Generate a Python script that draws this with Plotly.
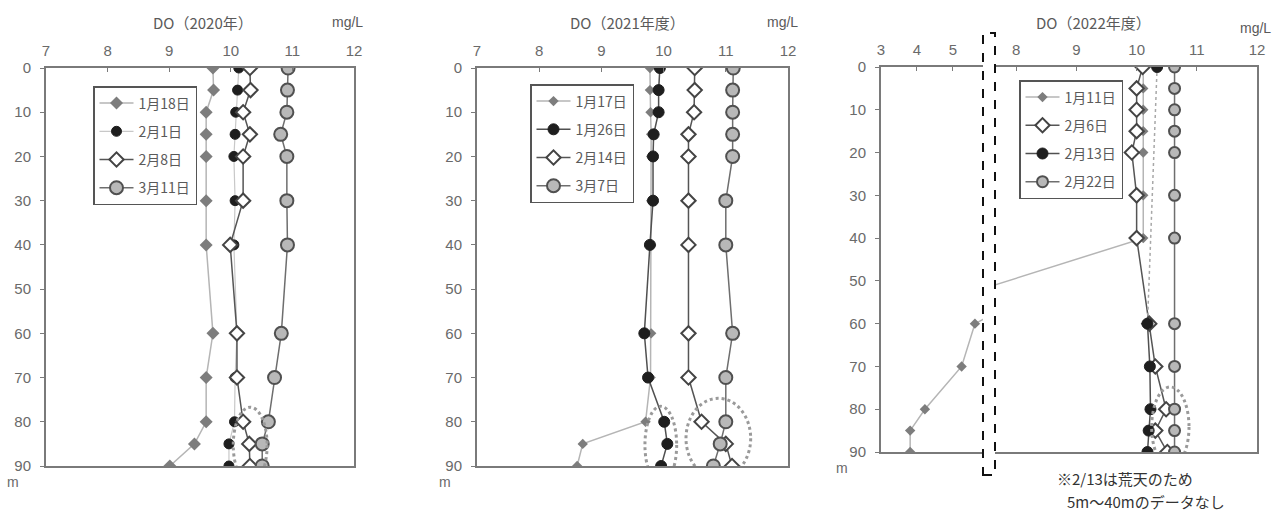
import plotly.graph_objects as go

W, H = 1285, 513

# ---------------- data ----------------
depths = [0, 5, 10, 15, 20, 30, 40, 60, 70, 80, 85, 90]
y_ticks = [0, 10, 20, 30, 40, 50, 60, 70, 80, 90]

# DO 2020
names_2020 = ["1月18日", "2月1日", "2月8日", "3月11日"]
do20_0118 = [9.71, 9.72, 9.60, 9.60, 9.60, 9.60, 9.60, 9.71, 9.60, 9.60, 9.41, 9.01]
do20_0201 = [10.13, 10.11, 10.08, 10.07, 10.05, 10.07, 10.05, 10.10, 10.07, 10.06, 9.97, 9.97]
do20_0208 = [10.31, 10.32, 10.20, 10.31, 10.20, 10.20, 9.99, 10.10, 10.10, 10.20, 10.30, 10.31]
do20_0311 = [10.93, 10.92, 10.91, 10.81, 10.91, 10.91, 10.92, 10.82, 10.71, 10.61, 10.51, 10.51]

# DO 2021
names_2021 = ["1月17日", "1月26日", "2月14日", "3月7日"]
do21_0117 = [9.78, 9.78, 9.79, 9.80, 9.80, 9.80, 9.80, 9.80, 9.79, 9.71, 8.70, 8.61]
do21_0126 = [9.94, 9.92, 9.92, 9.84, 9.83, 9.83, 9.78, 9.69, 9.75, 10.01, 10.06, 9.96]
do21_0214 = [10.50, 10.50, 10.49, 10.40, 10.40, 10.40, 10.40, 10.40, 10.40, 10.61, 11.00, 11.10]
do21_0307 = [11.12, 11.11, 11.11, 11.11, 11.11, 11.00, 11.00, 11.11, 11.00, 11.00, 10.91, 10.80]

# DO 2022
names_2022 = ["1月11日", "2月6日", "2月13日", "2月22日"]
do22_0111 = [10.11, 10.11, 10.11, 10.11, 10.11, 10.11, 10.11, 5.61, 5.24, 4.22, 3.81, 3.81]
do22_0206 = [10.10, 10.00, 10.00, 10.00, 9.92, 10.00, 10.00, 10.21, 10.31, 10.49, 10.31, 10.51]
depths_0213 = [0, 60, 70, 80, 85, 90]
do22_0213 = [10.34, 10.18, 10.22, 10.23, 10.20, 10.18]
do22_0222 = [10.63, 10.63, 10.63, 10.63, 10.63, 10.63, 10.63, 10.63, 10.63, 10.63, 10.63, 10.63]

x_ticks_main = [7, 8, 9, 10, 11, 12]
x_ticks_2022_left = [3, 4, 5]
x_ticks_2022_right = [8, 9, 10, 11, 12]

titles = ["DO（2020年）", "DO（2021年度）", "DO（2022年度）"]
note_lines = ["※2/13は荒天のため", "5m～40mのデータなし"]

# ---------------- styles ----------------
FONT = "Liberation Sans, Arial, Noto Sans CJK JP, sans-serif"
JFONT = "Noto Sans CJK JP, Liberation Sans, sans-serif"
AXC = "#7a7a7a"
TXC = "#6a6a6a"

STY = {
    "gdia": dict(marker=dict(symbol="diamond", size=10, color="#7d7d7d", line=dict(width=0)),
                 line=dict(color="#b5b5b5", width=1.5)),
    "gdia_s": dict(marker=dict(symbol="diamond", size=8, color="#7d7d7d", line=dict(width=0)),
                   line=dict(color="#b5b5b5", width=1.5)),
    "bcir": dict(marker=dict(symbol="circle", size=10, color="#1e1e1e", line=dict(width=1, color="#1e1e1e")),
                 line=dict(color="#c8c8c8", width=1.2)),
    "bcir_d": dict(marker=dict(symbol="circle", size=11, color="#1e1e1e", line=dict(width=1, color="#1e1e1e")),
                   line=dict(color="#505050", width=1.5)),
    "wdia": dict(marker=dict(symbol="diamond", size=11, color="white", line=dict(width=2, color="#444444")),
                 line=dict(color="#555555", width=1.5)),
    "gcir": dict(marker=dict(symbol="circle", size=13, color="#b8b8b8", line=dict(width=2, color="#505050")),
                 line=dict(color="#6e6e6e", width=1.5)),
    "gcir_s": dict(marker=dict(symbol="circle", size=11, color="#b8b8b8", line=dict(width=2, color="#505050")),
                   line=dict(color="#6e6e6e", width=1.5)),
}


def px(x):
    return x / W


def py(y):
    return 1 - y / H


fig = go.Figure()


def add(xv, yv, name, sty, xa, ya, legend, show=True, mode="lines+markers", group=None):
    fig.add_trace(go.Scatter(
        x=xv, y=yv, name=name, mode=mode, xaxis=xa, yaxis=ya,
        marker=STY[sty]["marker"], line=STY[sty]["line"],
        legend=legend, showlegend=show, legendgroup=group or (legend + name),
        cliponaxis=True, hoverinfo="x+y+name",
    ))


# Panel 1
add(do20_0118, depths, names_2020[0], "gdia", "x", "y", "legend")
add(do20_0201, depths, names_2020[1], "bcir", "x", "y", "legend")
add(do20_0208, depths, names_2020[2], "wdia", "x", "y", "legend")
add(do20_0311, depths, names_2020[3], "gcir", "x", "y", "legend")

# Panel 2
add(do21_0117, depths, names_2021[0], "gdia_s", "x2", "y2", "legend2")
add(do21_0126, depths, names_2021[1], "bcir_d", "x2", "y2", "legend2")
add(do21_0214, depths, names_2021[2], "wdia", "x2", "y2", "legend2")
add(do21_0307, depths, names_2021[3], "gcir", "x2", "y2", "legend2")

# Panel 3 (broken x axis: x3 left part, x4 right part)
add(do22_0111, depths, names_2022[0], "gdia_s", "x3", "y3", "legend3", show=False, group="g0111")
add(do22_0111, depths, names_2022[0], "gdia_s", "x4", "y4", "legend3", group="g0111")
add(do22_0206, depths, names_2022[1], "wdia", "x4", "y4", "legend3")
# 2/13: dotted connector over missing 5-40 m, solid below
fig.add_trace(go.Scatter(x=do22_0213[:2], y=depths_0213[:2], mode="lines", xaxis="x4", yaxis="y4",
                         line=dict(color="#a8a8a8", width=1.5, dash="dot"), showlegend=False,
                         legend="legend3", hoverinfo="skip"))
fig.add_trace(go.Scatter(x=do22_0213[1:], y=depths_0213[1:], mode="lines", xaxis="x4", yaxis="y4",
                         line=STY["bcir_d"]["line"], showlegend=False, legend="legend3",
                         legendgroup="g0213", hoverinfo="skip"))
fig.add_trace(go.Scatter(x=do22_0213, y=depths_0213, mode="markers", xaxis="x4", yaxis="y4",
                         marker=STY["bcir_d"]["marker"], showlegend=False, legend="legend3",
                         legendgroup="g0213", cliponaxis=True))
fig.add_trace(go.Scatter(x=[None], y=[None], mode="lines+markers", name=names_2022[2],
                         xaxis="x4", yaxis="y4", marker=STY["bcir_d"]["marker"],
                         line=STY["bcir_d"]["line"], legend="legend3", legendgroup="g0213"))
add(do22_0222, depths, names_2022[3], "gcir_s", "x4", "y4", "legend3")

# ---------------- axes ----------------
def xax(rng, ticks, dom, anchor, mirror=True):
    return dict(range=rng, tickvals=ticks, domain=dom, anchor=anchor, side="top",
                showline=True, linecolor=AXC, linewidth=2, mirror=mirror,
                ticks="inside", ticklen=4, tickcolor=AXC, tickwidth=1,
                showgrid=False, zeroline=False, automargin=False,
                tickfont=dict(family=FONT, size=15, color=TXC), ticklabelstandoff=4)


def yax(dom, anchor, labels=True, side="left"):
    return dict(range=[90, 0], tickvals=y_ticks, domain=dom, anchor=anchor, side=side,
                showline=True, linecolor=AXC, linewidth=2, mirror=False,
                ticks="outside" if labels else "", ticklen=4, tickcolor=AXC,
                showticklabels=labels, showgrid=False, zeroline=False, automargin=False,
                tickfont=dict(family=FONT, size=15, color=TXC), ticklabelstandoff=6)


dom_y12 = [py(466), py(68)]
dom_y3 = [py(452), py(67)]

fig.update_layout(
    template="none",
    width=W, height=H, margin=dict(l=0, r=0, t=0, b=0, autoexpand=False),
    paper_bgcolor="white", plot_bgcolor="white",
    font=dict(family=FONT, color=TXC),
    xaxis=xax([7, 12], x_ticks_main, [px(46), px(354)], "y"),
    yaxis=dict(yax(dom_y12, "x"), mirror=True),
    xaxis2=xax([7, 12], x_ticks_main, [px(477), px(788)], "y2"),
    yaxis2=dict(yax(dom_y12, "x2"), mirror=True),
    xaxis3=xax([3, 5.89], x_ticks_2022_left, [px(881), px(985)], "y3"),
    yaxis3=yax(dom_y3, "x3"),
    xaxis4=xax([7.63, 12], x_ticks_2022_right, [px(994), px(1257)], "y4"),
    yaxis4=dict(yax(dom_y3, "x4", labels=False, side="right"), matches="y3"),
    showlegend=True,
)

leg_common = dict(bgcolor="white", bordercolor="#555555", borderwidth=1.5,
                  font=dict(family=JFONT, size=14, color="#5a5a5a"),
                  xanchor="left", yanchor="top", tracegroupgap=7, itemwidth=34,
                  traceorder="grouped")
fig.update_layout(
    legend=dict(leg_common, x=px(93), y=py(86)),
    legend2=dict(leg_common, x=px(530), y=py(84)),
    legend3=dict(leg_common, x=px(1019), y=py(80)),
)

# ---------------- annotations ----------------
ann = []
for t, cx in zip(titles, [203, 627, 1093]):
    ann.append(dict(text=t, x=px(cx), y=py(22), xref="paper", yref="paper", showarrow=False,
                    font=dict(family=JFONT, size=15, color="#5a5a5a"), xanchor="center", yanchor="middle"))
for cx, cy in [(347, 22), (783, 22), (1255, 28)]:
    ann.append(dict(text="mg/L", x=px(cx), y=py(cy), xref="paper", yref="paper", showarrow=False,
                    font=dict(family=FONT, size=14, color="#5a5a5a"), xanchor="center", yanchor="middle"))
for cx, cy in [(13, 482), (445, 482), (842, 468)]:
    ann.append(dict(text="m", x=px(cx), y=py(cy), xref="paper", yref="paper", showarrow=False,
                    font=dict(family=FONT, size=14, color="#6a6a6a"), xanchor="center", yanchor="middle"))
ann.append(dict(text=note_lines[0], x=px(1056), y=py(478), xref="paper", yref="paper", showarrow=False,
                borderpad=0, font=dict(family=JFONT, size=15, color="#333333"),
                xanchor="left", yanchor="middle"))
ann.append(dict(text=note_lines[1], x=px(1066), y=py(501), xref="paper", yref="paper", showarrow=False,
                borderpad=0, font=dict(family=JFONT, size=15, color="#333333"),
                xanchor="left", yanchor="middle"))
fig.update_layout(annotations=ann)

# ---------------- shapes ----------------
dot = dict(color="#9a9a9a", width=3, dash="dot")
shapes = [
    dict(type="circle", xref="x", yref="y", x0=10.04, x1=10.59, y0=76.7, y1=93.9, line=dot, layer="above"),
    dict(type="circle", xref="x2", yref="y2", x0=9.70, x1=10.21, y0=76.5, y1=94.0, line=dot, layer="above"),
    dict(type="circle", xref="x2", yref="y2", x0=10.36, x1=11.40, y0=74.7, y1=92.8, line=dot, layer="above"),
    dict(type="circle", xref="x4", yref="y4", x0=10.25, x1=10.87, y0=74.8, y1=93.5, line=dot, layer="above"),
    # axis break box
    dict(type="rect", xref="paper", yref="paper", x0=px(983), x1=px(995), y0=py(475), y1=py(33),
         line=dict(color="#111111", width=2, dash="dash"), fillcolor="white", layer="above"),
]
fig.update_layout(shapes=shapes)

fig.write_html("out.html")
